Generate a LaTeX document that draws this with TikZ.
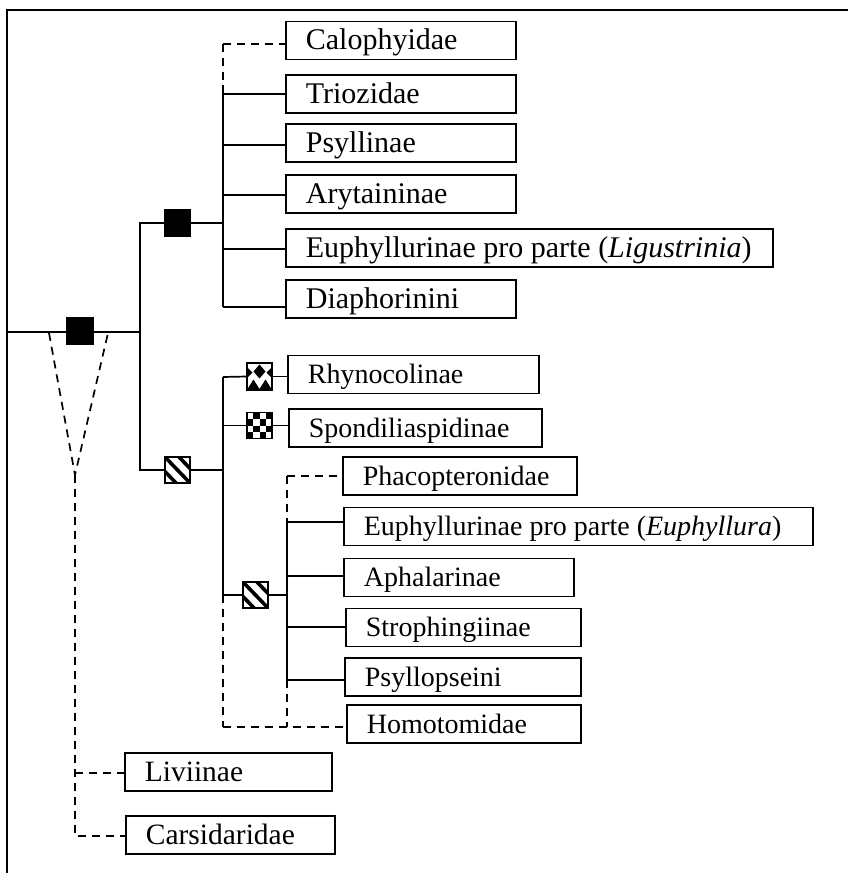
\documentclass[tikz,border=0pt]{standalone}
\usepackage{fontspec}
\setmainfont{Liberation Serif}
\newcommand{\tx}[2]{\makebox[#1][l]{#2}}
\begin{document}
\begin{tikzpicture}[x=1pt,y=-1pt,line width=1.7pt,
  taxon/.style={draw, anchor=west, minimum height=38pt, inner xsep=20pt, inner ysep=0pt,
    text height=24pt, text depth=6pt, font=\fontsize{28}{30}\selectfont},
  big/.style={font=\fontsize{30}{32}\selectfont},
  mid/.style={font=\fontsize{29.5}{31}\selectfont},
  dsh/.style={dash pattern=on 8pt off 6pt},
  blk/.style={draw, fill=black, minimum width=26pt, minimum height=27pt, inner sep=0pt},
  hatch/.style={draw, fill=white, minimum width=25pt, minimum height=26pt, inner sep=0pt,
    path picture={\foreach \o in {-14,0,14}
      \draw[black, line width=3.6pt] ([xshift=\o pt]path picture bounding box.north west) -- ([xshift=\o pt]path picture bounding box.south east);}},
  chk/.style={draw, fill=white, minimum width=25pt, minimum height=26pt, inner sep=0pt,
    path picture={\foreach \i/\j in {0/1,0/3,1/0,1/2,2/1,2/3,3/0,3/2}
      \fill[black] ([shift={(\i*6.25,\j*6.5)}]path picture bounding box.north west) rectangle ++(6.25,6.5);}},
  xicon/.style={draw, fill=white, minimum width=25pt, minimum height=27pt, inner sep=0pt,
    path picture={\fill[black, shift={(path picture bounding box.center)}]
      (0,-12) -- (6,-5) -- (0,2) -- (-6,-5) -- cycle
      (-13,-10) -- (-7,-4) -- (-13,2) -- cycle
      (13,-10) -- (7,-4) -- (13,2) -- cycle
      (-13,14) -- (-6,3) -- (1,14) -- cycle
      (-1,14) -- (6,3) -- (13,14) -- cycle;}}
]
\useasboundingbox (0,0) rectangle (848,873);

% frame
\draw (7,873) -- (7,10) -- (848,10);

% taxa boxes
\node[taxon, big] (cal) at (285,40.5) {\tx{190pt}{Calophyidae}};
\node[taxon, big] (tri) at (285,94) {\tx{190pt}{Triozidae}};
\node[taxon, big] (psy) at (285,143) {\tx{190pt}{Psyllinae}};
\node[taxon, big] (ary) at (285,194) {\tx{190pt}{Arytaininae}};
\node[taxon, big] (lig) at (285,248) {\tx{447pt}{Euphyllurinae pro parte (\textit{Ligustrinia})}};
\node[taxon, big] (dia) at (285,299) {\tx{190pt}{Diaphorinini}};
\node[taxon] (rhy) at (287,374.5) {\tx{211pt}{Rhynocolinae}};
\node[taxon] (spo) at (288,428) {\tx{213pt}{Spondiliaspidinae}};
\node[taxon] (pha) at (342,476) {\tx{194pt}{Phacopteronidae}};
\node[taxon] (eup) at (343,526.5) {\tx{429pt}{Euphyllurinae pro parte (\textit{Euphyllura})}};
\node[taxon] (aph) at (343,577.5) {\tx{190pt}{Aphalarinae}};
\node[taxon] (str) at (345,627.5) {\tx{195pt}{Strophingiinae}};
\node[taxon] (psl) at (344,677) {\tx{196pt}{Psyllopseini}};
\node[taxon] (hom) at (346,724) {\tx{194pt}{Homotomidae}};
\node[taxon, mid] (liv) at (124,772) {\tx{167pt}{Liviinae}};
\node[taxon, mid] (car) at (125,835) {\tx{169pt}{Carsidaridae}};

% character icons
\node[blk] (r) at (80,331) {};
\node[blk] (n1) at (177.5,223) {};
\node[hatch] (n2) at (177.5,470) {};
\node[xicon] (i1) at (259.5,376.5) {};
\node[chk] (i2) at (259.5,425.5) {};
\node[hatch] (n3) at (255.5,595) {};

% coordinates
\coordinate (base) at (7,332);
\coordinate (j0) at (140,332);
\coordinate (j1) at (223,223);
\coordinate (j2) at (223,470);
\coordinate (j3) at (287,595);
\coordinate (vl) at (49,333);
\coordinate (vr) at (108,333);
\coordinate (v) at (75,475);

% root
\draw (base) -- (r.west |- base);
\draw (r.east |- base) -- (j0);
\draw (j0) |- (n1.west);
\draw (n1.east) -- (j1);
\draw (j0) |- (n2.west);
\draw (n2.east) -- (j2);

% top group
\coordinate (t0) at (223,44);
\coordinate (t1) at (223,85);
\draw[dsh] (t0) -- (t1);
\draw[dsh] (t0) -- (cal.west |- t0);
\foreach \n/\y in {tri/94, psy/145, ary/195, lig/249, dia/307}
  \coordinate (b-\n) at (223,\y);
\draw (t1) -- (b-dia);
\foreach \n in {tri,psy,ary,lig,dia}
  \draw (b-\n) -- (\n.west |- b-\n);

% bottom group
\coordinate (b-rhy) at (223,377);
\coordinate (b-spo) at (223,425.5);
\coordinate (b-hom) at (223,727);
\draw (b-rhy) -- (n3.west -| b-rhy);
\draw[dsh] (n3.west -| b-rhy) -- (b-hom);
\draw (b-rhy) -- (i1.west);
\draw (i1.east) -- (rhy.west |- i1.east);
\draw (b-spo) -- (i2.west);
\draw (i2.east) -- (spo.west |- i2.east);
\draw (n3.west -| b-rhy) -- (n3.west);
\draw (n3.east) -- (j3);

% inner group
\coordinate (c-pha) at (287,476);
\coordinate (c-eup) at (287,522);
\coordinate (c-aph) at (287,576);
\coordinate (c-str) at (287,627);
\coordinate (c-psl) at (287,680);
\coordinate (c-hom) at (287,727);
\draw[dsh] (c-pha) -- (c-eup);
\draw (c-eup) -- (c-psl);
\draw[dsh] (c-psl) -- (c-hom);
\draw[dsh] (c-pha) -- (pha.west |- c-pha);
\foreach \n in {eup,aph,str,psl}
  \draw (c-\n) -- (\n.west |- c-\n);
\draw[dsh] (b-hom) -- (hom.west |- b-hom);

% basal dashed lineages
\coordinate (d-liv) at (75,773);
\coordinate (d-car) at (75,836);
\draw[dsh] (vl) -- (v) -- (vr);
\draw[dsh] (v) -- (d-car) -- (car.west |- d-car);
\draw[dsh] (d-liv) -- (liv.west |- d-liv);
\end{tikzpicture}
\end{document}
